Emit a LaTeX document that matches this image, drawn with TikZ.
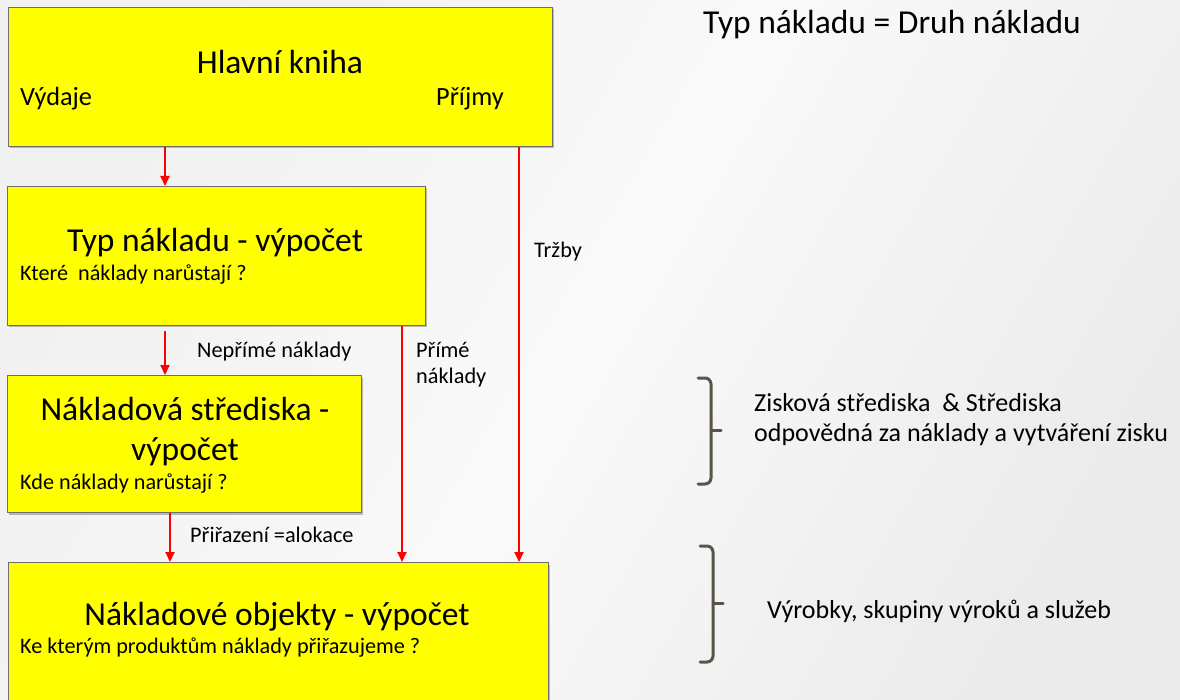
\documentclass[tikz,border=0pt]{standalone}
\usepackage{fontspec}
\setmainfont{Carlito}
\usetikzlibrary{arrows.meta,shadows}
\definecolor{bgc}{HTML}{F1F1F1}
\definecolor{boxline}{HTML}{6E6E6E}
\definecolor{boxfill}{RGB}{255,255,0}
\definecolor{bracec}{HTML}{5A5347}
\definecolor{arrred}{RGB}{255,0,0}
\tikzset{
  ybox/.style={draw=boxline, line width=1pt, fill=boxfill, anchor=north west, inner sep=0pt,
    drop shadow={shadow xshift=1.5pt, shadow yshift=-2pt, opacity=0.25, fill=black}},
  big/.style={font=\fontsize{33.5}{38}\selectfont, inner sep=0pt},
  mid/.style={font=\fontsize{26.3}{30}\selectfont, inner sep=0pt, anchor=west},
  small/.style={font=\fontsize{22.2}{26}\selectfont, inner sep=0pt, anchor=west},
  lbl/.style={font=\fontsize{22.3}{26}\selectfont, inner sep=0pt, anchor=west, align=left},
  side/.style={font=\fontsize{26}{32}\selectfont, inner sep=0pt, anchor=west},
  arr/.style={draw=arrred, line width=2pt, -{Triangle[length=10pt,width=9pt]}},
  brace/.style={draw=bracec, line width=3pt, rounded corners=6pt, line cap=round},
}
\begin{document}
\begin{tikzpicture}[x=1pt,y=-1pt]
\useasboundingbox (0,0) rectangle (1180,700);
\clip (0,0) rectangle (1180,700);
\shade[left color=bgc, right color=bgc!95!gray, middle color=white!60!bgc, shading angle=60] (0,0) rectangle (1180,700);

% boxes
\node[ybox, minimum width=544pt, minimum height=139pt] (b1) at (8,7) {};
\node[ybox, minimum width=418pt, minimum height=139pt] (b2) at (7,186) {};
\node[ybox, minimum width=354pt, minimum height=137pt] (b3) at (7,375) {};
\node[ybox, minimum width=540pt, minimum height=160pt] (b4) at (8,562) {};

% box texts
\node[big] (t1) at (280,62) {Hlavní kniha};
\node[mid] (v1) at (20,99) {Výdaje};
\node[mid] (p1) at (436,99) {Příjmy};

\node[big] (t2) at (215,243) {Typ nákladu - výpočet};
\node[small] (s2) at (20,275) {Které\ \ náklady narůstají ?};

\node[big, align=center, font=\fontsize{33.5}{40}\selectfont] (t3) at (185,432) {Nákladová střediska -\\výpočet};
\node[small] (s3) at (20,484) {Kde náklady narůstají ?};

\node[big] (t4) at (277,617) {Nákladové objekty - výpočet};
\node[small] (s4) at (20,648) {Ke kterým produktům náklady přiřazujeme ?};

% arrow x positions
\coordinate (xa) at (165,0);
\coordinate (xb) at (519,0);
\coordinate (xc) at (402,0);
\coordinate (xd) at (170,0);

\draw[arr] (b1.south -| xa) -- (b2.north -| xa);
\draw[arr] (b1.south -| xb) -- (b4.north -| xb);
\draw[arr, shorten <=5pt] (b2.south -| xa) -- (b3.north -| xa);
\draw[arr] (b2.south -| xc) -- (b4.north -| xc);
\draw[arr] (b3.south -| xd) -- (b4.north -| xd);

% connector labels
\node[lbl] (l1) at (534,252) {Tržby};
\node[lbl] (l2) at (197,352) {Nepřímé náklady};
\node[lbl] (l3) at (416,365) {Přímé\\náklady};
\node[lbl] (l4) at (190,535) {Přiřazení =alokace};

% title
\node[big, anchor=west] (tt) at (703,25) {Typ nákladu = Druh nákladu};

% braces
\draw[brace] (698,378) -- (711,378) -- (711,484) -- (698,484);
\draw[brace, rounded corners=0pt] (711,430) -- (721,430);
\draw[brace] (700,546) -- (713,546) -- (713,662) -- (700,662);
\draw[brace, rounded corners=0pt] (713,603) -- (723,603);

\node[side] (r1) at (754,403) {Zisková střediska\ \ \& Střediska};
\node[side] (r2) at (754,435) {odpovědná za náklady a vytváření zisku};
\node[side] (r3) at (767,611) {Výrobky, skupiny výroků a služeb};
\end{tikzpicture}
\end{document}
